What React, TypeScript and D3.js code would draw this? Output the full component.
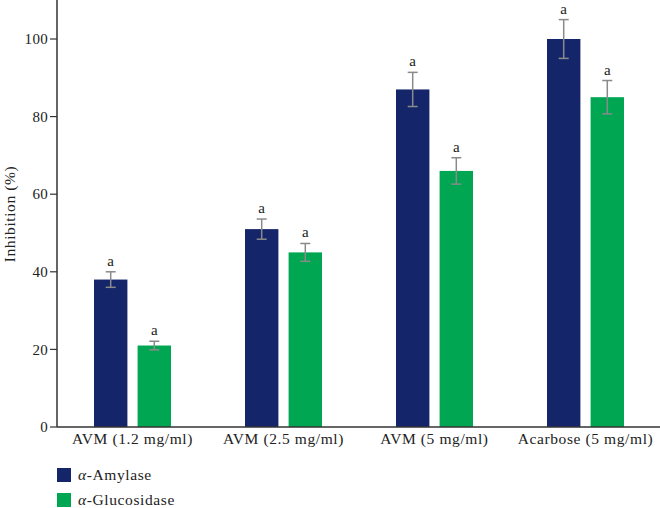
import React from "react";
import * as d3 from "d3";

const categories = ["AVM (1.2 mg/ml)", "AVM (2.5 mg/ml)", "AVM (5 mg/ml)", "Acarbose (5 mg/ml)"];
const seriesNames = ["Amylase", "Glucosidase"];
const amylase = [38, 51, 87, 100];
const amylaseErr = [2, 2.6, 4.4, 5];
const glucosidase = [21, 45, 66, 85];
const glucosidaseErr = [1.1, 2.3, 3.4, 4.3];
const yTicks = [0, 20, 40, 60, 80, 100];
const sigLabels = ["a", "a", "a", "a"];

const colors = ["#14256a", "#00a651"];
const font = "'Liberation Serif', 'DejaVu Serif', serif";

export default function App() {
  const W = 660, H = 508;
  const x0 = 57, yBase = 427;
  const y = d3.scaleLinear().domain([0, 110]).range([yBase, 0.2]);
  const x = d3.scaleBand().domain(categories).range([x0, 661]).paddingInner(0).paddingOuter(0);
  const inner = d3.scaleBand().domain(seriesNames).range([x.bandwidth() / 2 - 38.5, x.bandwidth() / 2 + 38.5]).paddingInner(9 / 77 * 2).paddingOuter(0);
  const series = [
    { name: seriesNames[0], vals: amylase, errs: amylaseErr },
    { name: seriesNames[1], vals: glucosidase, errs: glucosidaseErr },
  ];
  return (
    <svg width={W} height={H} style={{ position: "absolute", left: 0, top: 0, background: "#fff" }} fontFamily={font}>
      {series.map((s, si) =>
        categories.map((c, ci) => {
          const bx = (x(c) as number) + (inner(s.name) as number);
          const bw = inner.bandwidth();
          const cx = bx + bw / 2;
          const v = s.vals[ci], e = s.errs[ci];
          return (
            <g key={`${si}-${ci}`}>
              <rect x={bx} y={y(v)} width={bw} height={yBase - y(v)} fill={colors[si]} />
              <line x1={cx} x2={cx} y1={y(v + e)} y2={y(v - e)} stroke="#8a8a8a" strokeWidth={1.5} />
              <line x1={cx - 5} x2={cx + 5} y1={y(v + e)} y2={y(v + e)} stroke="#8a8a8a" strokeWidth={1.5} />
              <line x1={cx - 5} x2={cx + 5} y1={y(v - e)} y2={y(v - e)} stroke="#8a8a8a" strokeWidth={1.5} />
              <text x={cx} y={y(v + e) - 6} textAnchor="middle" fontSize={15} fill="#222">{sigLabels[ci]}</text>
            </g>
          );
        })
      )}
      {/* axes */}
      <line x1={x0} x2={x0} y1={0} y2={yBase} stroke="#333" strokeWidth={1.5} />
      <line x1={x0} x2={W} y1={yBase} y2={yBase} stroke="#333" strokeWidth={1.5} />
      {yTicks.map((t) => (
        <g key={t}>
          <line x1={x0 - 7} x2={x0} y1={y(t)} y2={y(t)} stroke="#333" strokeWidth={1.2} />
          <text x={x0 - 9} y={y(t)} dy="0.35em" textAnchor="end" fontSize={15} letterSpacing={0.3} fill="#222">{t}</text>
        </g>
      ))}
      {categories.map((c) => (
        <text key={c} x={(x(c) as number) + x.bandwidth() / 2} y={444} textAnchor="middle" fontSize={15.5} letterSpacing={0.6} fill="#222">{c}</text>
      ))}
      <text transform={`translate(15, 214) rotate(-90)`} textAnchor="middle" fontSize={15.5} letterSpacing={0.6} fill="#222">Inhibition (%)</text>
      {/* legend */}
      {series.map((s, si) => (
        <g key={s.name} transform={`translate(57, ${468 + si * 25})`}>
          <rect width={14} height={14} fill={colors[si]} />
          <text x={21} y={7} dy="0.35em" fontSize={15.5} letterSpacing={0.6} fill="#222">
            <tspan fontStyle="italic">α</tspan>-{si === 0 ? "Amylase" : "Glucosidase"}
          </text>
        </g>
      ))}
    </svg>
  );
}
